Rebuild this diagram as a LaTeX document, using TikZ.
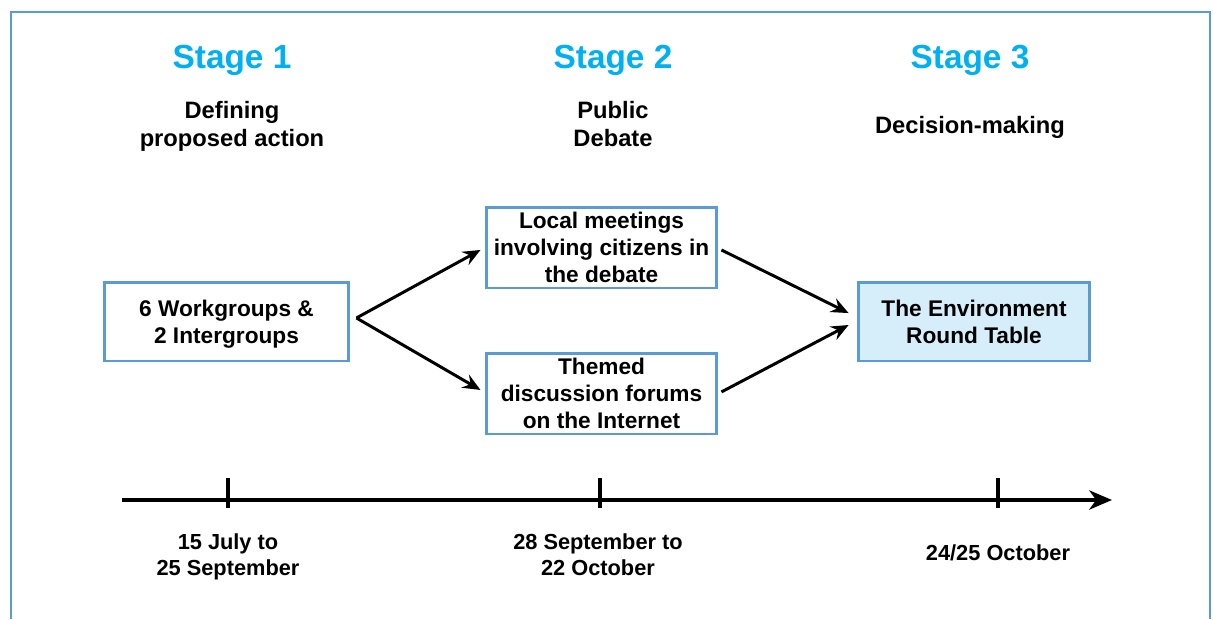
\documentclass[tikz,border=0pt]{standalone}
\usepackage{fontspec}
\setmainfont{Liberation Sans}
\usetikzlibrary{arrows.meta}

\begin{document}
\begin{tikzpicture}[x=0.02cm,y=-0.02cm,line width=1.7pt,
    stage/.style={text=title,text depth=0pt,font=\fontsize{19}{23}\selectfont\bfseries},
    phase/.style={align=center,text depth=0pt,font=\fontsize{13.5}{15.9}\selectfont\bfseries},
    when/.style={align=center,text depth=0pt,font=\fontsize{12.4}{14.7}\selectfont\bfseries},
    stepbox/.style={draw=frame,align=center,inner sep=0pt,text depth=0pt,
      font=\fontsize{12.9}{15.3}\selectfont\bfseries},
    flow/.style={-{Stealth[length=10pt,width=8.5pt,inset=3.5pt]}}]

  \definecolor{frame}{RGB}{91,155,213} % blue
  \definecolor{title}{RGB}{0,176,240} % cyan
  \definecolor{final}{RGB}{214,238,250} % pale blue

  \useasboundingbox (0,0) rectangle (1213,619);

  % Frame
  \draw[frame,line width=1.5pt] (11,619) |- (1210,12) -- (1210,619);

  % Stage titles
  \node[stage] (s1) at (232,57) {Stage 1};
  \node[stage] (s2) at (613,57) {Stage 2};
  \node[stage] (s3) at (970,57) {Stage 3};

  \node[phase] (p1) at (232,124) {Defining\\proposed action};
  \node[phase] (p2) at (613,124) {Public\\Debate};
  \node[phase] (p3) at (970,125) {Decision-making};

  % Draw boxes
  \node[stepbox,minimum width=4.9cm,minimum height=1.58cm] (groups) at (226.5,321.5)
      {6 Workgroups \&\\2 Intergroups};
  \node[stepbox,minimum width=4.62cm,minimum height=1.62cm] (meet) at (601.5,247.5)
      {Local meetings\\involving citizens in\\the debate};
  \node[stepbox,minimum width=4.62cm,minimum height=1.62cm] (forum) at (601.5,393.5)
      {Themed\\discussion forums\\on the Internet};
  \node[stepbox,fill=final,minimum width=4.64cm,minimum height=1.58cm] (table) at (974,321.5)
      {The Environment\\Round Table};

  % Draw flow arrows
  \coordinate (fork) at ([xshift=3.4pt,yshift=2pt]groups.east);
  \draw[flow] (fork) -- ([xshift=-2.3pt,yshift=-1.4pt]meet.west);
  \draw[flow] (fork) -- ([xshift=-2.3pt,yshift=2pt]forum.west);
  \draw[flow] ([xshift=1.7pt,yshift=-1.4pt]meet.east) -- ([xshift=-4.5pt,yshift=4.8pt]table.west);
  \draw[flow] ([xshift=1.7pt,yshift=0.9pt]forum.east) -- ([xshift=-4.5pt,yshift=-2pt]table.west);

  % Draw time line
  \coordinate (t0) at (122,500);
  \coordinate (t1) at (1112,500);
  \draw[line width=1.9pt,-{Stealth[length=13pt,width=11pt,inset=4pt]}] (t0) -- (t1);
  \foreach \x/\name in {228/d1,600/d2,998/d3}
    \draw[line width=1.9pt] (\x,478) -- (\x,508) coordinate (\name);

  % Dates
  \node[when] (date1) at (228,555) {15 July to\\25 September};
  \node[when] (date2) at (598,555) {28 September to\\22 October};
  \node[when] (date3) at (998,553) {24/25 October};

\end{tikzpicture}
\end{document}
